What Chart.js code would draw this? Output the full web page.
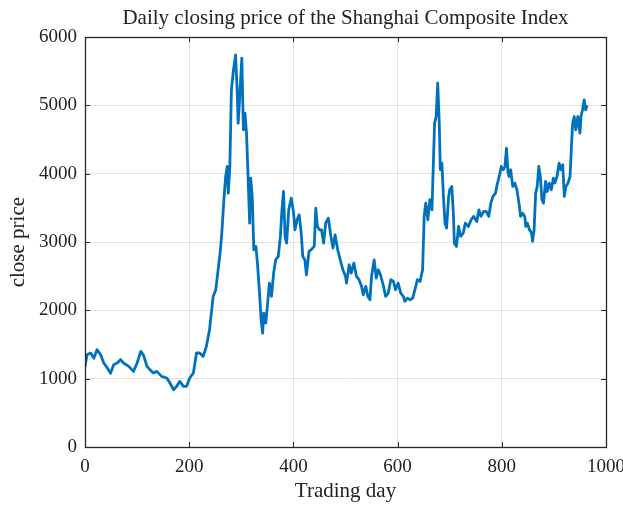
<!DOCTYPE html>
<html>
<head>
<meta charset="utf-8">
<script src="https://cdn.jsdelivr.net/npm/chart.js@4/dist/chart.umd.min.js"></script>
<style>
  html, body { margin: 0; padding: 0; background: #ffffff; }
  #wrap { width: 623px; height: 506px; }
</style>
</head>
<body>
<div id="wrap"><canvas id="c" width="623" height="506"></canvas></div>
<script>
// Trading day index and daily close of the Shanghai Composite Index
const tradingDays = [
  0, 4, 11, 17, 23, 30, 36, 43, 49, 55, 62, 68, 74, 84, 93, 100, 107, 112, 119, 125,
  131, 138, 147, 157, 163, 170, 176, 182, 189, 195, 201, 208, 214, 220, 227, 233, 239, 246, 251, 257,
  260, 263, 267, 270, 273, 275, 278, 281, 285, 289, 292, 294, 297, 301, 304, 307, 310, 313, 316, 318,
  321, 324, 328, 331, 335, 338, 341, 343, 347, 350, 354, 358, 362, 366, 371, 375, 378, 381, 384, 387,
  391, 396, 400, 403, 407, 411, 415, 418, 422, 425, 430, 434, 440, 443, 446, 450, 454, 458, 462, 467,
  472, 476, 480, 485, 490, 495, 500, 502, 507, 511, 516, 521, 526, 531, 534, 539, 543, 547, 550, 555,
  559, 563, 567, 573, 577, 582, 587, 592, 596, 601, 606, 611, 614, 619, 624, 629, 634, 638, 643, 648,
  651, 654, 658, 662, 666, 669, 671, 674, 677, 680, 682, 685, 688, 691, 694, 698, 700, 704, 707, 709,
  713, 717, 721, 726, 730, 736, 741, 746, 752, 756, 760, 765, 770, 775, 779, 783, 788, 791, 795, 799,
  803, 806, 809, 812, 814, 817, 821, 825, 829, 833, 836, 840, 844, 846, 849, 853, 857, 859, 862, 865,
  868, 871, 874, 877, 880, 884, 887, 891, 895, 899, 902, 906, 910, 913, 917, 920, 923, 927, 931, 934,
  936, 939, 942, 946, 950, 952, 955, 958, 961, 963
];
const closePrices = [
  1180, 1350, 1375, 1300, 1425, 1350, 1230, 1155, 1080, 1205, 1230, 1280, 1230, 1180, 1107, 1230, 1400, 1350, 1180, 1130,
  1083, 1107, 1034, 1010, 937, 839, 888, 961, 888, 888, 1010, 1083, 1376, 1376, 1327, 1473, 1717, 2205, 2302, 2693,
  2888, 3180, 3668, 3961, 4107, 3717, 4107, 5229, 5522, 5741, 5229, 4741, 5132, 5693, 4644, 4888, 4595, 3961, 3278, 3937,
  3668, 2888, 2937, 2693, 2254, 1863, 1668, 1961, 1815, 2059, 2400, 2205, 2546, 2741, 2790, 3083, 3473, 3741, 3083, 2985,
  3473, 3644, 3449, 3180, 3327, 3400, 3132, 2790, 2741, 2522, 2863, 2888, 2937, 3498, 3229, 3180, 3180, 2985, 3278, 3351,
  3083, 2912, 3107, 2888, 2741, 2595, 2500, 2400, 2668, 2546, 2693, 2498, 2449, 2351, 2229, 2351, 2205, 2156, 2498, 2741,
  2473, 2595, 2522, 2351, 2205, 2254, 2449, 2424, 2302, 2400, 2254, 2205, 2132, 2180, 2156, 2180, 2327, 2449, 2424, 2595,
  3376, 3571, 3327, 3620, 3473, 4254, 4741, 4839, 5327, 4741, 4059, 4156, 3668, 3278, 3205, 3668, 3766, 3815, 3424, 2985,
  2937, 3229, 3083, 3132, 3278, 3229, 3327, 3376, 3302, 3473, 3376, 3449, 3449, 3376, 3571, 3668, 3717, 3839, 3961, 4107,
  4059, 4107, 4376, 4010, 3961, 4059, 3815, 3863, 3766, 3571, 3376, 3424, 3376, 3229, 3278, 3180, 3132, 3010, 3180, 3717,
  3815, 4107, 3961, 3620, 3571, 3888, 3741, 3863, 3766, 3937, 3863, 3961, 4156, 4059, 4132, 3668, 3815, 3863, 3961, 4449,
  4741, 4839, 4644, 4839, 4595, 4839, 4937, 5083, 4937, 4985
];
const xTicks = [0, 200, 400, 600, 800, 1000];
const yTicks = [0, 1000, 2000, 3000, 4000, 5000, 6000];

const serif = '"Liberation Serif", "DejaVu Serif", serif';
const textColor = '#222222';

// Closed axes box with inward tick marks on all four sides
const boxPlugin = {
  id: 'axesBox',
  afterDraw(chart) {
    const { ctx, chartArea: a, scales } = chart;
    const len = 5;
    ctx.save();
    ctx.strokeStyle = '#262626';
    ctx.lineWidth = 1;
    ctx.beginPath();
    xTicks.forEach(v => {
      const px = Math.round(scales.x.getPixelForValue(v)) + 0.5;
      ctx.moveTo(px, a.bottom); ctx.lineTo(px, a.bottom - len);
      ctx.moveTo(px, a.top); ctx.lineTo(px, a.top + len);
    });
    yTicks.forEach(v => {
      const py = Math.round(scales.y.getPixelForValue(v)) + 0.5;
      ctx.moveTo(a.left, py); ctx.lineTo(a.left + len, py);
      ctx.moveTo(a.right, py); ctx.lineTo(a.right - len, py);
    });
    ctx.stroke();
    ctx.lineWidth = 1.3;
    ctx.strokeRect(Math.round(a.left) + 0.5, Math.round(a.top) + 0.5,
                   Math.round(a.right - a.left), Math.round(a.bottom - a.top));
    ctx.restore();
  }
};

const plainNumber = v => String(v);

new Chart(document.getElementById('c'), {
  type: 'line',
  data: {
    datasets: [{
      data: tradingDays.map((d, i) => ({ x: d, y: closePrices[i] })),
      borderColor: '#0072BD',
      borderWidth: 2.8,
      pointRadius: 0,
      tension: 0,
      borderJoinStyle: 'round',
      borderCapStyle: 'round',
      fill: false
    }]
  },
  options: {
    responsive: false,
    animation: false,
    devicePixelRatio: 1,
    layout: { padding: { left: 0, right: 0, top: 0, bottom: 0 } },
    plugins: {
      legend: { display: false },
      tooltip: { enabled: false },
      title: {
        display: true,
        fullSize: false,
        text: 'Daily closing price of the Shanghai Composite Index',
        color: textColor,
        font: { family: serif, size: 21, weight: 'normal' },
        padding: { top: 6, bottom: 6 }
      }
    },
    scales: {
      x: {
        type: 'linear',
        min: 0, max: 1000,
        afterBuildTicks(scale) { scale.ticks = xTicks.map(v => ({ value: v })); },
        ticks: { color: textColor, font: { family: serif, size: 19 }, padding: 9, maxRotation: 0, callback: plainNumber },
        grid: { color: '#e2e2e2', lineWidth: 1, drawTicks: false },
        border: { display: false },
        title: {
          display: true, text: 'Trading day', color: textColor,
          font: { family: serif, size: 21 }, padding: { top: 2, bottom: 2 }
        },
        afterFit(scale) {
          scale.height = 59;
          scale.paddingLeft = 0;
          scale.paddingRight = 17;
        }
      },
      y: {
        type: 'linear',
        min: 0, max: 6000,
        afterBuildTicks(scale) { scale.ticks = yTicks.map(v => ({ value: v })); },
        ticks: { color: textColor, font: { family: serif, size: 19 }, padding: 8, callback: plainNumber },
        grid: { color: '#e2e2e2', lineWidth: 1, drawTicks: false },
        border: { display: false },
        title: {
          display: true, text: 'close price', color: textColor,
          font: { family: serif, size: 21 }, padding: { top: 6, bottom: 2 }
        },
        afterFit(scale) { scale.width = 85; }
      }
    }
  },
  plugins: [boxPlugin]
});
</script>
</body>
</html>
